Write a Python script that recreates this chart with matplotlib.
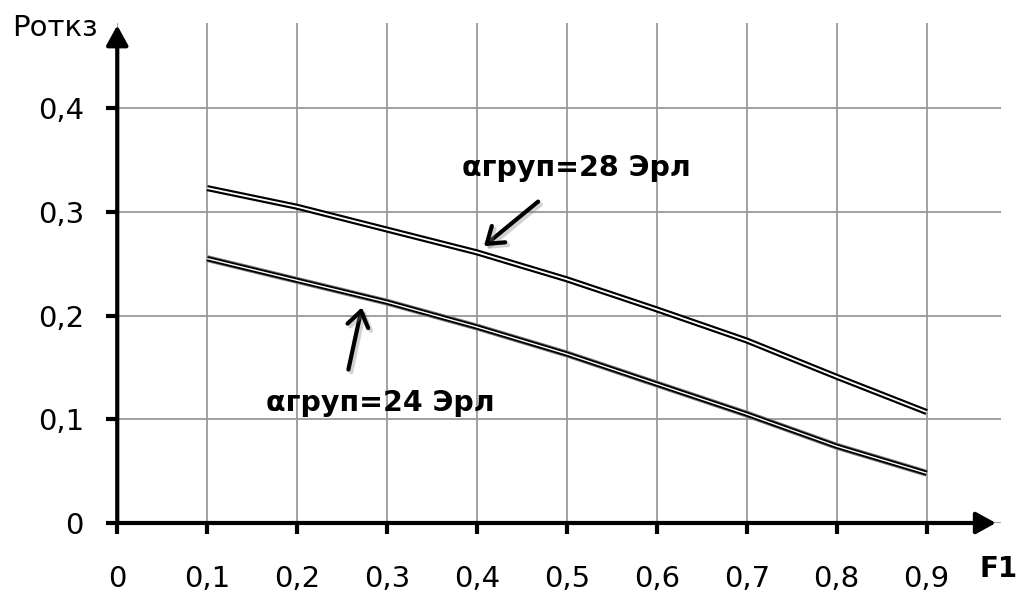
import matplotlib
matplotlib.use("Agg")
import matplotlib.pyplot as plt
from matplotlib.patches import FancyArrowPatch
import matplotlib.patheffects as pe

plt.rcParams['font.family'] = ['DejaVu Sans']

# Data
f1 = [0.1, 0.2, 0.3, 0.4, 0.5, 0.6, 0.7, 0.8, 0.9]
p_28 = [0.323, 0.305, 0.283, 0.261, 0.235, 0.206, 0.176, 0.141, 0.107]
p_24 = [0.255, 0.234, 0.213, 0.189, 0.163, 0.134, 0.105, 0.074, 0.048]
x_ticks = [0, 0.1, 0.2, 0.3, 0.4, 0.5, 0.6, 0.7, 0.8, 0.9]
x_labels = ['0', '0,1', '0,2', '0,3', '0,4', '0,5', '0,6', '0,7', '0,8', '0,9']
y_ticks = [0, 0.1, 0.2, 0.3, 0.4]
y_labels = ['0', '0,1', '0,2', '0,3', '0,4']
label_28 = 'αгруп=28 Эрл'
label_24 = 'αгруп=24 Эрл'

fig = plt.figure(figsize=(10.27, 5.96), dpi=100)
ax = fig.add_axes([0.11417, 0.1225, 0.8608, 0.8385])
ax.set_xlim(0, 0.983)
ax.set_ylim(0, 0.482)

for s in ax.spines.values():
    s.set_visible(False)

ax.set_xticks(x_ticks)
ax.set_xticklabels(x_labels)
ax.set_yticks(y_ticks)
ax.set_yticklabels(y_labels)
ax.tick_params(axis='both', length=8, width=3, direction='out', labelsize=21, color='black')
ax.tick_params(axis='y', pad=16)
ax.tick_params(axis='x', pad=22)
ax.grid(True, color='#9a9a9a', linewidth=1.3, zorder=0)
ax.set_axisbelow(True)

# Axes lines with arrowheads
for end in [(0.977, 0), (0, 0.480)]:
    arr = FancyArrowPatch((0, 0), end, arrowstyle='-|>,head_length=0.6,head_width=0.33',
                          mutation_scale=20, color='black', linewidth=3,
                          clip_on=False, shrinkA=0, shrinkB=0, zorder=5)
    ax.add_patch(arr)

# Double-stroke curves
ax.plot(f1, p_28, color='black', linewidth=4.4, solid_capstyle='butt', zorder=3)
ax.plot(f1, p_28, color='white', linewidth=1.3, solid_capstyle='butt', zorder=4)
ax.plot(f1, p_24, color='#7a7a7a', linewidth=5.0, solid_capstyle='butt', zorder=3)
ax.plot(f1, p_24, color='black', linewidth=3.6, solid_capstyle='butt', zorder=3)
ax.plot(f1, p_24, color='white', linewidth=1.0, solid_capstyle='butt', zorder=4)

shadow = [pe.SimpleLineShadow(offset=(2, -2), shadow_color='gray', alpha=0.35), pe.Normal()]
arrow_props = dict(arrowstyle='->,head_length=0.55,head_width=0.38', lw=3, color='black',
                   shrinkA=0, shrinkB=0, mutation_scale=20, path_effects=shadow)

ax.text(0.510, 0.342, label_28, fontsize=20.5, fontweight='bold', ha='center', va='center')
ax.annotate('', xy=(0.4077, 0.267), xytext=(0.468, 0.310), arrowprops=arrow_props, zorder=6)

ax.text(0.292, 0.116, label_24, fontsize=20.5, fontweight='bold', ha='center', va='center')
ax.annotate('', xy=(0.272, 0.208), xytext=(0.257, 0.148), arrowprops=arrow_props, zorder=6)

fig.text(12 / 1027, 1 - 28 / 596, 'Роткз', fontsize=21, ha='left', va='center')
fig.text(999 / 1027, 1 - 569 / 596, 'F1', fontsize=20, fontweight='bold', ha='center', va='center')

fig.savefig('out.png', dpi=100, facecolor='white')
